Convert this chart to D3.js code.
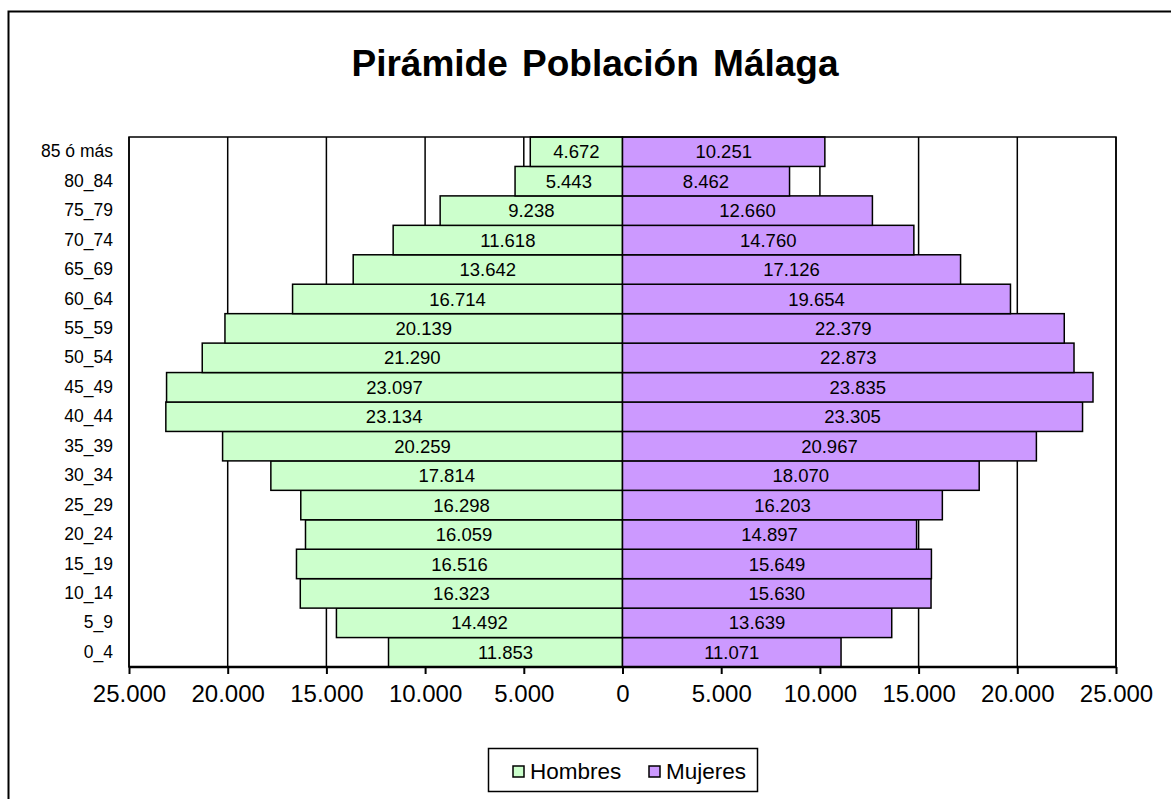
<!DOCTYPE html>
<html>
<head>
<meta charset="utf-8">
<script src="https://cdn.jsdelivr.net/npm/d3@7"></script>
<style>
  body { margin: 0; background: #fff; }
  svg { display: block; font-family: "Liberation Sans", Arial, sans-serif; }
</style>
</head>
<body>
<script>
// age groups, bottom to top
var ages = ["0_4", "5_9", "10_14", "15_19", "20_24", "25_29", "30_34", "35_39", "40_44",
            "45_49", "50_54", "55_59", "60_64", "65_69", "70_74", "75_79", "80_84", "85 ó más"];
var hombres = [11853, 14492, 16323, 16516, 16059, 16298, 17814, 20259, 23134,
               23097, 21290, 20139, 16714, 13642, 11618, 9238, 5443, 4672];
var mujeres = [11071, 13639, 15630, 15649, 14897, 16203, 18070, 20967, 23305,
               23835, 22873, 22379, 19654, 17126, 14760, 12660, 8462, 10251];
var xTicks = [-25000, -20000, -15000, -10000, -5000, 0, 5000, 10000, 15000, 20000, 25000];
var series = ["Hombres", "Mujeres"];
var colors = ["#CCFFCC", "#CC99FF"];

var W = 1171, H = 799;
var plot = {left: 129, right: 1116, top: 137, bottom: 667};

var es = d3.formatLocale({decimal: ",", thousands: ".", grouping: [3], currency: ["", " €"]});
var fmt = es.format(",d");

var svg = d3.select("body").append("svg")
    .attr("width", W)
    .attr("height", H);

// outer chart frame
svg.append("rect")
    .attr("x", 8.5).attr("y", 11.5)
    .attr("width", 1300).attr("height", 1000)
    .attr("fill", "#fff")
    .attr("stroke", "#000")
    .attr("stroke-width", 2);

svg.append("text")
    .attr("x", 595).attr("y", 76)
    .attr("text-anchor", "middle")
    .attr("font-size", 37)
    .attr("font-weight", "bold")
    .attr("word-spacing", 4)
    .text("Pirámide Población Málaga");

var x = d3.scaleLinear()
    .domain([-25000, 25000])
    .range([plot.left, plot.right]);

var y = d3.scaleBand()
    .domain(ages.slice().reverse())
    .range([plot.top, plot.bottom])
    .padding(0);

// gridlines
svg.append("g")
    .selectAll("line")
    .data(xTicks)
    .join("line")
    .attr("x1", function(d) { return x(d); })
    .attr("x2", function(d) { return x(d); })
    .attr("y1", plot.top)
    .attr("y2", plot.bottom)
    .attr("stroke", "#000")
    .attr("stroke-width", 1.5);

var rows = ages.map(function(a, i) { return {age: a, h: hombres[i], m: mujeres[i]}; });

// Hombres bars (left)
svg.append("g")
    .selectAll("rect")
    .data(rows)
    .join("rect")
    .attr("x", function(d) { return x(-d.h); })
    .attr("y", function(d) { return y(d.age); })
    .attr("width", function(d) { return x(0) - x(-d.h); })
    .attr("height", y.bandwidth())
    .attr("fill", colors[0])
    .attr("stroke", "#000")
    .attr("stroke-width", 1.5);

// Mujeres bars (right)
svg.append("g")
    .selectAll("rect")
    .data(rows)
    .join("rect")
    .attr("x", x(0))
    .attr("y", function(d) { return y(d.age); })
    .attr("width", function(d) { return x(d.m) - x(0); })
    .attr("height", y.bandwidth())
    .attr("fill", colors[1])
    .attr("stroke", "#000")
    .attr("stroke-width", 1.5);

// bar labels
var lab = svg.append("g")
    .attr("font-size", 18.5)
    .attr("text-anchor", "middle");
lab.selectAll("text.h")
    .data(rows)
    .join("text")
    .attr("class", "h")
    .attr("x", function(d) { return (x(-d.h) + x(0)) / 2; })
    .attr("y", function(d) { return y(d.age) + y.bandwidth() / 2; })
    .attr("dy", "0.36em")
    .text(function(d) { return fmt(d.h); });
lab.selectAll("text.m")
    .data(rows)
    .join("text")
    .attr("class", "m")
    .attr("x", function(d) { return (x(d.m) + x(0)) / 2; })
    .attr("y", function(d) { return y(d.age) + y.bandwidth() / 2; })
    .attr("dy", "0.36em")
    .text(function(d) { return fmt(d.m); });

// plot area border
svg.append("rect")
    .attr("x", plot.left).attr("y", plot.top)
    .attr("width", plot.right - plot.left)
    .attr("height", plot.bottom - plot.top)
    .attr("fill", "none")
    .attr("stroke", "#000")
    .attr("stroke-width", 1.5);

// x axis
var xAxis = svg.append("g")
    .attr("transform", "translate(0," + plot.bottom + ")")
    .call(d3.axisBottom(x)
        .tickValues(xTicks)
        .tickSize(7)
        .tickPadding(11)
        .tickFormat(function(d) { return fmt(Math.abs(d)); }));
xAxis.select(".domain").attr("stroke-width", 2.5).attr("d", "M" + plot.left + ",0H" + plot.right);
xAxis.selectAll(".tick line").attr("stroke-width", 2);
xAxis.selectAll("text")
    .attr("font-size", 24)
    .attr("font-family", "Liberation Sans, Arial, sans-serif")
    .attr("fill", "#000");

// y axis labels
var yAxis = svg.append("g")
    .attr("transform", "translate(" + plot.left + ",0)")
    .call(d3.axisLeft(y).tickSize(0).tickPadding(16));
yAxis.select(".domain").remove();
yAxis.selectAll("text")
    .attr("font-size", 17.5)
    .attr("font-family", "Liberation Sans, Arial, sans-serif")
    .attr("fill", "#000");

// legend
var lg = svg.append("g");
lg.append("rect")
    .attr("x", 488.5).attr("y", 748.5)
    .attr("width", 269).attr("height", 43)
    .attr("fill", "#fff")
    .attr("stroke", "#000")
    .attr("stroke-width", 1.5);
var legX = [513, 649];
series.forEach(function(s, i) {
    lg.append("rect")
        .attr("x", legX[i]).attr("y", 766)
        .attr("width", 11).attr("height", 11)
        .attr("fill", colors[i])
        .attr("stroke", "#000")
        .attr("stroke-width", 1.5);
    lg.append("text")
        .attr("x", legX[i] + 17).attr("y", 779)
        .attr("font-size", 22.5)
        .text(s);
});
</script>
</body>
</html>
